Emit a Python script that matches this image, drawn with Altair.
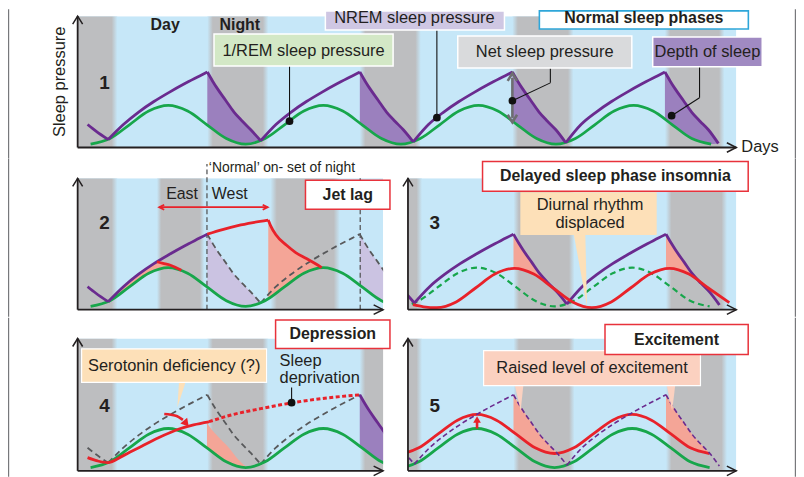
import altair as alt
import pandas as pd

FONT = "Liberation Sans"
INK = "#231f20"
SKY = "#c6e7f8"
NIGHT = "#bdbec0"
PURPLE = "#6a2b8f"
PURPLE_FILL = "#9b80be"
LAVENDER = "#cbc3e2"
GREEN = "#17a64b"
RED = "#e8222a"
SALMON = "#f4a597"
DASHGREY = "#58595b"
ARROWGREY = "#6d6e71"
FRAME = "#77787b"

# ---------------- data: x in days, y in % of panel height ----------------
NIGHT_START = [-0.15, 0.85, 1.85, 2.85, 3.85]
NIGHT_END = [0.26, 1.25, 2.25, 3.25, 4.24]
JET_NIGHT_START = [-0.15, 0.52, 1.265]
JET_NIGHT_END = [0.26, 0.83, 1.72]

# 1/REM sleep pressure (green)
REM_T = [0.085, 0.212, 0.339, 0.466, 0.594, 0.721, 0.848, 0.975,
         1.102, 1.229, 1.356, 1.483, 1.611, 1.738, 1.865, 1.992,
         2.119, 2.246, 2.373, 2.500, 2.628, 2.755, 2.882, 3.009,
         3.136, 3.263, 3.390, 3.517, 3.645, 3.772, 3.899, 4.026, 4.153]
REM_Y = [2.5, 6.8, 17.3, 27.7, 32.0, 27.7, 17.3, 6.8,
         2.5, 6.8, 17.3, 27.7, 32.0, 27.7, 17.3, 6.8,
         2.5, 6.8, 17.3, 27.7, 32.0, 27.7, 17.3, 6.8,
         2.5, 6.8, 17.3, 27.7, 32.0, 27.7, 17.3, 6.8, 2.5]
# raised level of excitement (panel 5, red)
EXCITED_Y = [13.1, 17.4, 27.9, 38.3, 42.6, 38.3, 27.9, 17.4,
             13.1, 17.4, 27.9, 38.3, 42.6, 38.3, 27.9, 17.4,
             13.1, 17.4, 27.9, 38.3, 42.6, 38.3, 27.9, 17.4,
             13.1, 17.4, 27.9, 38.3, 42.6, 38.3, 27.9, 17.4, 13.1]

# NREM sleep pressure (purple): rising parts (waking) ...
NREM_RISE_T = [0.065, 0.12, 0.2,
               0.2, 0.3, 0.4, 0.5, 0.6, 0.7, 0.8, 0.85,
               1.2, 1.3, 1.4, 1.5, 1.6, 1.7, 1.8, 1.85,
               2.2, 2.3, 2.4, 2.5, 2.6, 2.7, 2.8, 2.85,
               3.2, 3.3, 3.4, 3.5, 3.6, 3.7, 3.8, 3.85]
NREM_RISE_Y = [17.5, 12.5, 6.1,
               6.1, 17.5, 27, 35, 42, 48.5, 54.5, 57.5,
               5.1, 17.5, 27, 35, 42, 48.5, 54.5, 57.5,
               4.3, 17.5, 27, 35, 42, 48.5, 54.5, 57.5,
               3.6, 17.5, 27, 35, 42, 48.5, 54.5, 57.5]
NREM_RISE_SEG = ["r0"] * 3 + ["r1"] * 8 + ["r2"] * 8 + ["r3"] * 8 + ["r4"] * 8
# ... and falling parts (sleep), with the green level beneath them
NREM_DECAY_T = [0.85, 0.885, 0.915, 0.97, 1.025, 1.08, 1.135, 1.2,
                1.85, 1.885, 1.915, 1.97, 2.025, 2.08, 2.135, 2.2,
                2.85, 2.885, 2.915, 2.97, 3.025, 3.08, 3.135, 3.2,
                3.85, 3.885, 3.915, 3.97, 4.025, 4.08, 4.135, 4.2]
NREM_DECAY_Y = [57.5, 50.5, 45, 36, 27, 20, 13.5, 5.1,
                57.5, 50.5, 45, 36, 27, 20, 13.5, 4.3,
                57.5, 50.5, 45, 36, 27, 20, 13.5, 3.6,
                57.5, 50.5, 45, 36, 27, 20, 13.5, 3.1]
REM_AT_DECAY = [17.05, 13.88, 11.29, 7.14, 4.14, 2.64, 2.81, 5.12,
                18.59, 15.41, 12.74, 8.32, 4.92, 2.92, 2.57, 4.31,
                20.12, 16.95, 14.24, 9.6, 5.83, 3.37, 2.5, 3.64,
                21.62, 18.5, 15.77, 10.97, 6.87, 3.97, 2.59, 3.12]
NREM_DECAY_SEG = ["d1"] * 8 + ["d2"] * 8 + ["d3"] * 8 + ["d4"] * 8

# panel 2: jet lag
EAST_T = [0.52, 0.56, 0.6, 0.64, 0.68]
EAST_Y = [36.5, 35.3, 34.2, 32.3, 30]
WEST_T = [0.85, 0.95, 1.05, 1.15, 1.25, 1.25, 1.265, 1.3, 1.37, 1.43, 1.5, 1.56, 1.6]
WEST_Y = [57.5, 61, 64, 66.3, 68.2, 68.2, 64, 57, 49, 43.5, 39, 35, 32]
WEST_SEG = ["w1"] * 5 + ["w2"] * 8
JET_FILL_T = [0.2, 0.3, 0.4, 0.5, 0.52, 0.56, 0.6, 0.64, 0.68,
              1.25, 1.265, 1.3, 1.37, 1.43, 1.5, 1.56, 1.6]
JET_FILL_UP = [6.1, 17.5, 27, 35, 36.5, 35.3, 34.2, 32.3, 30,
               68.2, 64, 57, 49, 43.5, 39, 35, 32]
JET_FILL_LOW = [6.07, 13.71, 22.65, 29.58, 30.51, 31.69, 31.99, 31.4, 29.95,
                8.25, 9.37, 12.24, 18.5, 23.75, 28.7, 31.28, 31.97]
JET_FILL_SEG = ["e"] * 9 + ["w"] * 8

# panel 3: delayed sleep phase
DELAYED_T = [1.19, 1.26, 1.347, 1.474, 1.601, 1.728, 1.856, 1.983, 2.11,
             2.237, 2.364, 2.491, 2.618, 2.745, 2.873, 3.0, 3.127, 3.265]
DELAYED_Y = [3.8, 2.2, 1.5, 5.9, 16.5, 27.1, 31.5, 27.1, 16.5,
             5.9, 1.5, 5.9, 16.5, 27.1, 31.5, 27.1, 16.5, 5.3]
DELAY_FILL_T = [1.85, 1.885, 1.915, 1.97, 2.025, 2.08, 2.85, 2.885, 2.915, 2.97, 3.025, 3.07]
DELAY_FILL_UP = [57.5, 50.5, 45, 36, 27, 20, 57.5, 50.5, 45, 36, 27, 21.4]
DELAY_FILL_LOW = [31.5, 31.35, 30.5, 27.9, 24, 19.3, 31.36, 31.46, 30.98, 28.85, 25.27, 21.4]
DELAY_FILL_SEG = ["a"] * 6 + ["b"] * 6

# panel 4: depression
SEROTONIN_T = [0.065, 0.13, 0.196, 0.3, 0.404, 0.53, 0.665, 0.76, 0.861]
SEROTONIN_Y = [10, 7.5, 6.2, 11.5, 17.7, 25, 31.6, 34.8, 37.1]
DEPRIVATION_T = [0.861, 1.0, 1.2, 1.4, 1.6, 1.853]
DEPRIVATION_Y = [37.1, 42, 47, 51.3, 54.6, 57.5]
DEPR_FILL_T = [0.848, 0.88, 0.92, 0.99, 1.05, 1.11]
DEPR_FILL_UP = [36.6, 31, 26, 17.7, 9, 2.6]
DEPR_FILL_LOW = [17.23, 14.33, 10.89, 5.89, 3.25, 2.52]
SERO_ARROW_T = [0.568, 0.644, 0.69]
SERO_ARROW_Y = [43, 41.7, 38.5]

# panel 5: excitement
EXCITE_FILL_T = [1.85, 1.885, 1.915, 1.97, 2.025, 2.08, 2.135,
                 2.85, 2.885, 2.915, 2.97, 3.025, 3.08, 3.135]
EXCITE_FILL_UP = [57.5, 50.5, 45, 36, 27, 20, 13.5, 57.5, 50.5, 45, 36, 27, 20, 13.5]
EXCITE_FILL_LOW = [29.19, 26.01, 23.34, 18.92, 15.52, 13.52, 13.17,
                   30.72, 27.55, 24.84, 20.2, 16.43, 13.97, 13.1]
EXCITE_FILL_SEG = ["a"] * 7 + ["b"] * 7

P1_DOM = [0.0, 4.318]
L_DOM = [0.0, 2.003]
R_DOM = [1.158, 3.311]

# ---------------- helpers ----------------
YS = alt.Scale(domain=[0, 100], nice=False, zero=False)
ONE = pd.DataFrame({"a": [0]})


def xq(f, dom):
    return alt.X(f, type="quantitative", scale=alt.Scale(domain=dom, nice=False, zero=False), axis=None)


def yq(f):
    return alt.Y(f, type="quantitative", scale=YS, axis=None)


def lines(data, dom, color, width=2.8, dash=None):
    kw = dict(interpolate="monotone", color=color, strokeWidth=width, clip=True)
    if dash:
        kw["strokeDash"] = dash
    return alt.Chart(data).mark_line(**kw).encode(x=xq("t", dom), y=yq("y"), detail="seg:N")


def fills(data, dom, color):
    return alt.Chart(data).mark_area(interpolate="monotone", color=color, opacity=1, clip=True).encode(
        x=xq("t", dom), y=yq("up"), y2=alt.Y2("low"), detail="seg:N")


def rects(data, dom, fill, stroke=None, sw=0.0, clip=False):
    kw = dict(fill=fill, clip=clip)
    if stroke:
        kw.update(stroke=stroke, strokeWidth=sw)
    return alt.Chart(data).mark_rect(**kw).encode(
        x=xq("t1", dom), x2=alt.X2("t2"), y=yq("y1"), y2=alt.Y2("y2"))


def segs(data, dom, color, width=1.0, dash=None):
    kw = dict(color=color, strokeWidth=width, clip=False)
    if dash:
        kw["strokeDash"] = dash
    return alt.Chart(data).mark_rule(**kw).encode(
        x=xq("t1", dom), x2=alt.X2("t2"), y=yq("y1"), y2=alt.Y2("y2"))


def texts(data, dom, size=16.5, weight="normal", align="center", angle=None, color=INK):
    kw = dict(font=FONT, fontSize=size, fontWeight=weight, align=align, baseline="middle", color=color)
    if angle is not None:
        kw["angle"] = angle
    return alt.Chart(data).mark_text(**kw).encode(x=xq("t", dom), y=yq("y"), text="label:N")


def points(data, dom, shape, size, color, filled, width=1.8, angle=0):
    return alt.Chart(data).mark_point(shape=shape, size=size, filled=filled, color=color,
                                      strokeWidth=width, opacity=1, angle=angle, clip=False).encode(
        x=xq("t", dom), y=yq("y"))


def wedges(data, dom, color):
    return alt.Chart(data).mark_area(orient="horizontal", color=color, opacity=1, clip=False).encode(
        y=yq("y"), x=xq("xl", dom), x2=alt.X2("xr"), detail="seg:N")


def cell(left, right, top, bottom):
    # white cell that fixes each panel's footprint in the page layout
    return alt.Chart(ONE).mark_rect(fill="white", opacity=1).encode(
        x=alt.value(left), x2=alt.value(right), y=alt.value(top), y2=alt.value(bottom))


def frame_bar(left, right, top, bottom):
    # thin vertical frame line of the page
    return alt.Chart(ONE).mark_rect(fill=FRAME, opacity=1).encode(
        x=alt.value(left), x2=alt.value(right), y=alt.value(top), y2=alt.value(bottom))


CHEV_UP = "M-1,1.6L0,0L1,1.6"
CHEV_RIGHT = "M-2,-1L0,0L-2,1"
CHEV_LEFT = "M2,-1L0,0L2,1"
BAND_FILL = alt.LinearGradient(
    gradient="linear", x1=0, x2=1, y1=0, y2=0,
    stops=[alt.GradientStop(color=SKY, offset=0), alt.GradientStop(color=NIGHT, offset=0.09),
           alt.GradientStop(color=NIGHT, offset=0.91), alt.GradientStop(color=SKY, offset=1)])


def background(dom, starts, ends):
    frame = pd.DataFrame({"t1": [dom[0]], "t2": [dom[1]], "y1": [0], "y2": [100]})
    bands = pd.DataFrame({"t1": starts, "t2": ends, "y1": 0, "y2": 100})
    return [rects(frame, dom, SKY, clip=True), rects(bands, dom, BAND_FILL, clip=True)]


def axes(dom):
    ax = pd.DataFrame({"t1": [dom[0], dom[0]], "t2": [dom[0], dom[1]], "y1": [0, 0], "y2": [100, 0]})
    return [segs(ax, dom, INK, 1.8),
            points(pd.DataFrame({"t": [dom[0]], "y": [100]}), dom, CHEV_UP, 100, INK, False, 1.5),
            points(pd.DataFrame({"t": [dom[1]], "y": [0]}), dom, CHEV_RIGHT, 90, INK, False, 1.5)]


def dots(data, dom):
    return alt.Chart(data).mark_circle(size=60, color="#111111", opacity=1, clip=False).encode(
        x=xq("t", dom), y=yq("y"))


rem = pd.DataFrame({"t": REM_T, "y": REM_Y, "seg": "g"})
rem_r = rem[rem.t <= 3.14]
excited = pd.DataFrame({"t": REM_T, "y": EXCITED_Y, "seg": "x"})
excited = excited[excited.t <= 3.14]
rise = pd.DataFrame({"t": NREM_RISE_T, "y": NREM_RISE_Y, "seg": NREM_RISE_SEG})
decay = pd.DataFrame({"t": NREM_DECAY_T, "y": NREM_DECAY_Y, "seg": NREM_DECAY_SEG})
nrem = pd.concat([rise, decay], ignore_index=True)
depth = pd.DataFrame({"t": NREM_DECAY_T, "up": NREM_DECAY_Y, "low": REM_AT_DECAY, "seg": NREM_DECAY_SEG})


def nrem_of(*names):
    return nrem[nrem.seg.isin(names)]


def depth_of(*names):
    return depth[depth.seg.isin(names)]


# ---------------- panel 1 ----------------
d = P1_DOM
p1_layers = [cell(-70, 722, -7, 143), frame_bar(-70, -68.8, -7, 143), frame_bar(720.8, 722, -7, 143)] + \
    background(d, NIGHT_START, NIGHT_END) + [
    fills(depth, d, PURPLE_FILL),
    lines(rem, d, GREEN),
    lines(nrem, d, PURPLE),
    segs(pd.DataFrame({"t1": [2.85], "t2": [2.85], "y1": [53], "y2": [22.5]}), d, ARROWGREY, 2.6),
    points(pd.DataFrame({"t": [2.85], "y": [56.5]}), d, CHEV_UP, 90, ARROWGREY, False, 2.6),
    points(pd.DataFrame({"t": [2.85], "y": [19.2]}), d, "M-1,-1.6L0,0L1,-1.6", 90, ARROWGREY, False, 2.6),
    segs(pd.DataFrame({"t1": [1.389, 2.355, 2.85, 3.099, 3.894, 4.077],
                       "t2": [1.389, 2.355, 3.099, 3.099, 4.077, 4.077],
                       "y1": [20, 22.7, 35.6, 49.2, 24.2, 37.9],
                       "y2": [62.1, 89.4, 49.2, 60.6, 37.9, 61.4]}), d, "#111111", 1.1),
    dots(pd.DataFrame({"t": [1.389, 2.355, 2.85, 3.894], "y": [20, 22.7, 35.6, 24.2]}), d),
    rects(pd.DataFrame({"t1": [1.624], "t2": [2.798], "y1": [89.4], "y2": [104]}), d, "#cfc7e3", "white", 1.5),
    rects(pd.DataFrame({"t1": [3.027], "t2": [4.397], "y1": [90.2], "y2": [104]}), d, "white", "#2ea6d9", 1.6),
    rects(pd.DataFrame({"t1": [0.894], "t2": [2.068], "y1": [62.1], "y2": [86.4]}), d, "#d3e8c6", "white", 1.5),
    rects(pd.DataFrame({"t1": [2.492], "t2": [3.633], "y1": [60.6], "y2": [84.8]}), d, "#d9dadc", "white", 1.5),
    rects(pd.DataFrame({"t1": [3.770], "t2": [4.488], "y1": [61.4], "y2": [84.1]}), d, "#a08ac2", "white", 1.5),
    texts(pd.DataFrame({"t": [2.208, 1.481, 3.062, 4.129],
                        "y": [98.9, 73.5, 72.7, 72.7],
                        "label": ["NREM sleep pressure", "1/REM sleep pressure", "Net sleep pressure",
                                  "Depth of sleep"]}), d),
    texts(pd.DataFrame({"t": [4.351], "y": [0], "label": ["Days"]}), d, align="left"),
    texts(pd.DataFrame({"t": [3.712], "y": [98.9], "label": ["Normal sleep phases"]}), d, 16, "bold"),
    texts(pd.DataFrame({"t": [0.574, 1.063], "y": [93.2, 93.2], "label": ["Day", "Night"]}), d, 16, "bold"),
    texts(pd.DataFrame({"t": [0.176], "y": [49.2], "label": ["1"]}), d, 19, "bold"),
    texts(pd.DataFrame({"t": [-0.117], "y": [50], "label": ["Sleep pressure"]}), d, angle=270),
] + axes(d)
p1 = alt.layer(*p1_layers).properties(width=662, height=132)

# ---------------- panel 2 ----------------
d = L_DOM
jet_fill = pd.DataFrame({"t": JET_FILL_T, "up": JET_FILL_UP, "low": JET_FILL_LOW, "seg": JET_FILL_SEG})
p2_layers = [cell(-70, 319, -20, 139), frame_bar(-70, -68.8, -20, 139)] + \
    background(d, JET_NIGHT_START, JET_NIGHT_END) + [
    fills(depth_of("d1", "d2"), d, LAVENDER),
    fills(jet_fill, d, SALMON),
    segs(pd.DataFrame({"t1": [0.848, 1.853], "t2": [0.848, 1.853], "y1": [0, 0], "y2": [111, 100]}),
         d, DASHGREY, 1.3, [5, 3]),
    lines(nrem_of("d1", "r2", "d2"), d, DASHGREY, 1.8, [6, 4]),
    lines(rem, d, GREEN),
    lines(nrem_of("r0", "r1"), d, PURPLE),
    lines(pd.DataFrame({"t": EAST_T, "y": EAST_Y, "seg": "e"}), d, RED),
    lines(pd.DataFrame({"t": WEST_T, "y": WEST_Y, "seg": WEST_SEG}), d, RED),
    segs(pd.DataFrame({"t1": [0.535], "t2": [1.246], "y1": [78], "y2": [78]}), d, RED, 1.8),
    points(pd.DataFrame({"t": [0.535], "y": [78]}), d, CHEV_LEFT, 25, RED, False, 1.8),
    points(pd.DataFrame({"t": [1.246], "y": [78]}), d, CHEV_RIGHT, 25, RED, False, 1.8),
    texts(pd.DataFrame({"t": [0.86], "y": [107.8], "label": ["\u2018Normal\u2019 on- set of night"]}), d, 14, align="left"),
    texts(pd.DataFrame({"t": [0.789], "y": [88], "label": ["East"]}), d, 16, align="right"),
    texts(pd.DataFrame({"t": [0.88], "y": [88], "label": ["West"]}), d, 16, align="left"),
    texts(pd.DataFrame({"t": [0.176], "y": [66], "label": ["2"]}), d, 19, "bold"),
] + axes(d) + [
    rects(pd.DataFrame({"t1": [1.494], "t2": [2.048], "y1": [76.5], "y2": [98.5]}), d, "white", "#e8323b", 1.5),
    texts(pd.DataFrame({"t": [1.771], "y": [87.5], "label": ["Jet lag"]}), d, 16, "bold"),
]
p2 = alt.layer(*p2_layers).properties(width=307, height=132)

# ---------------- panel 3 ----------------
d = R_DOM
delay_fill = pd.DataFrame({"t": DELAY_FILL_T, "up": DELAY_FILL_UP, "low": DELAY_FILL_LOW, "seg": DELAY_FILL_SEG})
p3_layers = [cell(-13, 390, -20, 139), frame_bar(388.8, 390, -20, 139)] + \
    background(d, NIGHT_START, NIGHT_END) + [
    fills(delay_fill, d, SALMON),
    lines(rem_r, d, GREEN, 2.2, [6, 4]),
    lines(nrem_of("d1", "r2", "d2", "r3", "d3"), d, PURPLE),
    lines(pd.DataFrame({"t": DELAYED_T, "y": DELAYED_Y, "seg": "r"}), d, RED),
    wedges(pd.DataFrame({"y": [57.5, 2.5], "xl": [2.245, 2.332], "xr": [2.321, 2.332], "seg": "w"}), d, "#fde0b8"),
    rects(pd.DataFrame({"t1": [1.895], "t2": [2.789], "y1": [56.8], "y2": [89.4]}), d, "#fde0b8"),
    texts(pd.DataFrame({"t": [2.352, 2.352], "y": [79.5, 65.9], "label": ["Diurnal rhythm", "displaced"]}), d),
    texts(pd.DataFrame({"t": [1.334], "y": [65.9], "label": ["3"]}), d, 19, "bold"),
] + axes(d) + [
    rects(pd.DataFrame({"t1": [1.647], "t2": [3.389], "y1": [90.2], "y2": [112.9]}), d, "white", "#e8323b", 1.5),
    texts(pd.DataFrame({"t": [2.518], "y": [101.5], "label": ["Delayed sleep phase insomnia"]}), d, 16, "bold"),
]
p3 = alt.layer(*p3_layers).properties(width=330, height=132)

# ---------------- panel 4 ----------------
d = L_DOM
depr_fill = pd.DataFrame({"t": DEPR_FILL_T, "up": DEPR_FILL_UP, "low": DEPR_FILL_LOW, "seg": "s"})
p4_layers = [cell(-70, 319, -21, 139), frame_bar(-70, -68.8, -21, 139)] + \
    background(d, NIGHT_START, NIGHT_END) + [
    fills(depr_fill, d, SALMON),
    fills(depth_of("d2"), d, PURPLE_FILL),
    lines(nrem_of("r0", "r1", "d1", "r2"), d, DASHGREY, 1.8, [6, 4]),
    lines(rem, d, GREEN),
    lines(pd.DataFrame({"t": SEROTONIN_T, "y": SEROTONIN_Y, "seg": "s"}), d, RED),
    lines(pd.DataFrame({"t": DEPRIVATION_T, "y": DEPRIVATION_Y, "seg": "p"}), d, RED, 3, [4, 2.5]),
    lines(nrem_of("d2"), d, PURPLE),
    lines(pd.DataFrame({"t": SERO_ARROW_T, "y": SERO_ARROW_Y, "seg": "a"}), d, RED, 2.6),
    points(pd.DataFrame({"t": [0.712], "y": [35.8]}), d, "triangle-up", 80, RED, True, 0, 140),
    segs(pd.DataFrame({"t1": [1.403], "t2": [1.403], "y1": [51.5], "y2": [62.9]}), d, "#111111", 1.1),
    dots(pd.DataFrame({"t": [1.403], "y": [51.5]}), d),
    wedges(pd.DataFrame({"y": [67.5, 48], "xl": [0.665, 0.654], "xr": [0.709, 0.654], "seg": "w"}), d, "#fde0b8"),
    rects(pd.DataFrame({"t1": [0.026], "t2": [1.239], "y1": [66.9], "y2": [92.2]}), d, "#fde0b8", "white", 1.2),
    texts(pd.DataFrame({"t": [0.633], "y": [79.5], "label": ["Serotonin deficiency (?)"]}), d),
    texts(pd.DataFrame({"t": [1.324, 1.324], "y": [83.3, 70.5], "label": ["Sleep", "deprivation"]}), d, align="left"),
    texts(pd.DataFrame({"t": [0.176], "y": [49.2], "label": ["4"]}), d, 19, "bold"),
] + axes(d) + [
    rects(pd.DataFrame({"t1": [1.298], "t2": [2.048], "y1": [92.4], "y2": [114]}), d, "white", "#e8323b", 1.5),
    texts(pd.DataFrame({"t": [1.673], "y": [103.4], "label": ["Depression"]}), d, 16, "bold"),
]
p4 = alt.layer(*p4_layers).properties(width=307, height=133)

# ---------------- panel 5 ----------------
d = R_DOM
excite_fill = pd.DataFrame({"t": EXCITE_FILL_T, "up": EXCITE_FILL_UP, "low": EXCITE_FILL_LOW, "seg": EXCITE_FILL_SEG})
p5_layers = [cell(-13, 390, -21, 139), frame_bar(388.8, 390, -21, 139)] + \
    background(d, NIGHT_START, NIGHT_END) + [
    fills(excite_fill, d, SALMON),
    lines(rem_r, d, GREEN),
    lines(excited, d, RED),
    lines(nrem_of("d1", "r2", "d2", "r3", "d3"), d, PURPLE, 1.6, [5, 3]),
    segs(pd.DataFrame({"t1": [1.611], "t2": [1.611], "y1": [32], "y2": [37]}), d, RED, 2.6),
    points(pd.DataFrame({"t": [1.611], "y": [38.8]}), d, "triangle-up", 60, RED, True, 0),
    wedges(pd.DataFrame({"y": [65, 45.5, 65, 45.5], "xl": [1.858, 1.897, 2.854, 2.89],
                         "xr": [1.915, 1.897, 2.911, 2.89], "seg": ["a", "a", "b", "b"]}), d, "#fbd1c0"),
    rects(pd.DataFrame({"t1": [1.654], "t2": [3.076], "y1": [64.4], "y2": [90.9]}), d, "#fbd1c0", "white", 1.2),
    texts(pd.DataFrame({"t": [2.365], "y": [77.7], "label": ["Raised level of excitement"]}), d),
    texts(pd.DataFrame({"t": [1.334], "y": [49.2], "label": ["5"]}), d, 19, "bold"),
] + axes(d) + [
    rects(pd.DataFrame({"t1": [2.45], "t2": [3.389], "y1": [87.9], "y2": [110.6]}), d, "white", "#e8323b", 1.5),
    texts(pd.DataFrame({"t": [2.919], "y": [99.2], "label": ["Excitement"]}), d, 16, "bold"),
]
p5 = alt.layer(*p5_layers).properties(width=330, height=133)

row1 = alt.hconcat(p2, p3, spacing=0)
row2 = alt.hconcat(p4, p5, spacing=0)
chart = alt.vconcat(p1, row1, row2, spacing=0, padding=0).configure_view(strokeWidth=0)

chart.save("out.html", embed_options={"renderer": "svg", "actions": False})
